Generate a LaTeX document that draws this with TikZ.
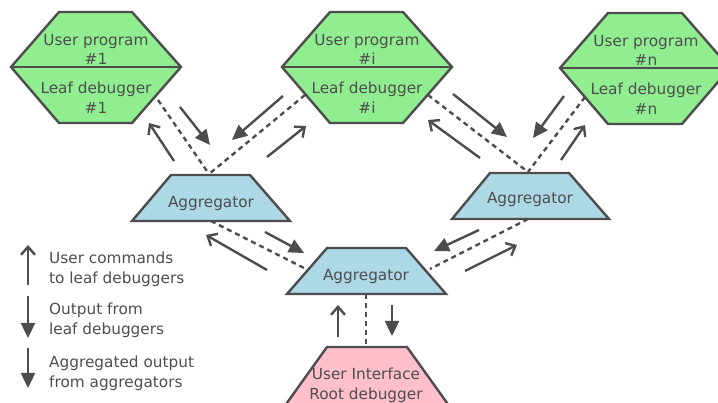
\documentclass[tikz,border=0pt]{standalone}
\usepackage{fontspec}
\setmainfont{DejaVu Sans}
\usetikzlibrary{arrows.meta}
\definecolor{ink}{HTML}{4D4D4D}
\definecolor{leafgreen}{HTML}{90EE90}
\definecolor{agblue}{HTML}{ADD8E6}
\definecolor{rootpink}{HTML}{FFC0CB}
\begin{document}
\begin{tikzpicture}[x=1pt,y=-1pt,
  shapeline/.style={draw=ink,line width=2.4pt,line join=miter},
  lbl/.style={text=ink,font=\fontsize{15.3}{19.5}\selectfont,align=center,inner sep=0pt},
  legtext/.style={text=ink,font=\fontsize{15.3}{19.5}\selectfont,align=left,inner sep=0pt,anchor=west},
  dashlink/.style={draw=ink,line width=2.4pt,dash pattern=on 5pt off 4pt},
  cmdarrow/.style={draw=ink,line width=2.4pt,-{Straight Barb[length=8pt,width=14pt]}},
  outarrow/.style={draw=ink,line width=2.4pt,-{Triangle[length=15pt,width=14pt]}},
]
\useasboundingbox (0,0) rectangle (718,403);
\clip (0,0) rectangle (718,403);

% leaf hexagons
\draw[shapeline,fill=leafgreen] (59,12) -- (132,12) -- (181,67) -- (132,123) -- (59,123) -- (11,67) -- cycle;
\draw[shapeline] (11,67) -- (181,67);
\draw[shapeline,fill=leafgreen] (330,12) -- (403,12) -- (452,67) -- (403,123) -- (330,123) -- (282,67) -- cycle;
\draw[shapeline] (282,67) -- (452,67);
\draw[shapeline,fill=leafgreen] (608,13) -- (682,13) -- (730,68) -- (682,124) -- (608,124) -- (560,68) -- cycle;
\draw[shapeline] (560,68) -- (730,68);

\node[lbl] (up1) at (96,49.5) {User program\\\#1};
\node[lbl] (ld1) at (96,97.5) {Leaf debugger\\\#1};
\node[lbl] (upi) at (367,49.5) {User program\\\#i};
\node[lbl] (ldi) at (367,97.5) {Leaf debugger\\\#i};
\node[lbl] (upn) at (646,50.5) {User program\\\#n};
\node[lbl] (ldn) at (646,98.5) {Leaf debugger\\\#n};

% aggregators
\draw[shapeline,fill=agblue] (171,175) -- (250,175) -- (290,221) -- (132,221) -- cycle;
\draw[shapeline,fill=agblue] (490,173) -- (569,173) -- (609,219) -- (452,219) -- cycle;
\draw[shapeline,fill=agblue] (327,248) -- (406,248) -- (446,294) -- (287,294) -- cycle;
\node[lbl] (ag1) at (211,203.5) {Aggregator};
\node[lbl] (ag2) at (530,199.5) {Aggregator};
\node[lbl] (ag3) at (366,276.5) {Aggregator};

% root
\draw[shapeline,fill=rootpink] (327,347) -- (407,347) -- (455,414) -- (279,414) -- cycle;
\node[lbl] (root) at (366,385.5) {User Interface\\Root debugger};

% connection points
\coordinate (h1out) at (158,100);
\coordinate (hiL) at (305,95);
\coordinate (hiR) at (428,95);
\coordinate (hnout) at (585,97);
\coordinate (a1top) at (209,174);
\coordinate (a2top) at (528,172);
\coordinate (a1bot) at (211,221);
\coordinate (a2bot) at (528,219);
\coordinate (a3L) at (304,268);
\coordinate (a3R) at (430,269);
\coordinate (a3bot) at (366,294);
\coordinate (rtop) at (366,347);

\draw[dashlink] (h1out) -- (a1top);
\draw[dashlink] (hiL) -- (a1top);
\draw[dashlink] (hiR) -- (a2top);
\draw[dashlink] (hnout) -- (a2top);
\draw[dashlink] (a1bot) -- (a3L);
\draw[dashlink] (a2bot) -- (a3R);
\draw[dashlink] (a3bot) -- (rtop);

% arrows
\draw[cmdarrow] (174,161) -- (149,123);
\draw[outarrow] (180,107) -- (210,145);
\draw[outarrow] (283,96) -- (232,140);
\draw[cmdarrow] (267,157) -- (306,126);
\draw[outarrow] (453,94) -- (507,137);
\draw[cmdarrow] (480,158) -- (428,120);
\draw[outarrow] (564,96) -- (533,138);
\draw[cmdarrow] (561,160) -- (585,125);
\draw[cmdarrow] (267,270) -- (206,235);
\draw[outarrow] (265,232) -- (304,253);
\draw[outarrow] (479,230) -- (434,251);
\draw[cmdarrow] (465,271) -- (517,245);
\draw[cmdarrow] (338,337) -- (338,305);
\draw[outarrow] (392,305) -- (392,336);

% legend
\coordinate (l1a) at (28,285); \coordinate (l1b) at (28,245);
\coordinate (l2a) at (28,296); \coordinate (l2b) at (28,338);
\coordinate (l3a) at (28,348); \coordinate (l3b) at (28,388);
\draw[cmdarrow] (l1a) -- (l1b);
\draw[outarrow] (l2a) -- (l2b);
\draw[outarrow] (l3a) -- (l3b);
\node[legtext] (lg1) at (49,269.5) {User commands\\to leaf debuggers};
\node[legtext] (lg2) at (49,320.5) {Output from\\leaf debuggers};
\node[legtext] (lg3) at (49,373.5) {Aggregated output\\from aggregators};
\end{tikzpicture}
\end{document}
